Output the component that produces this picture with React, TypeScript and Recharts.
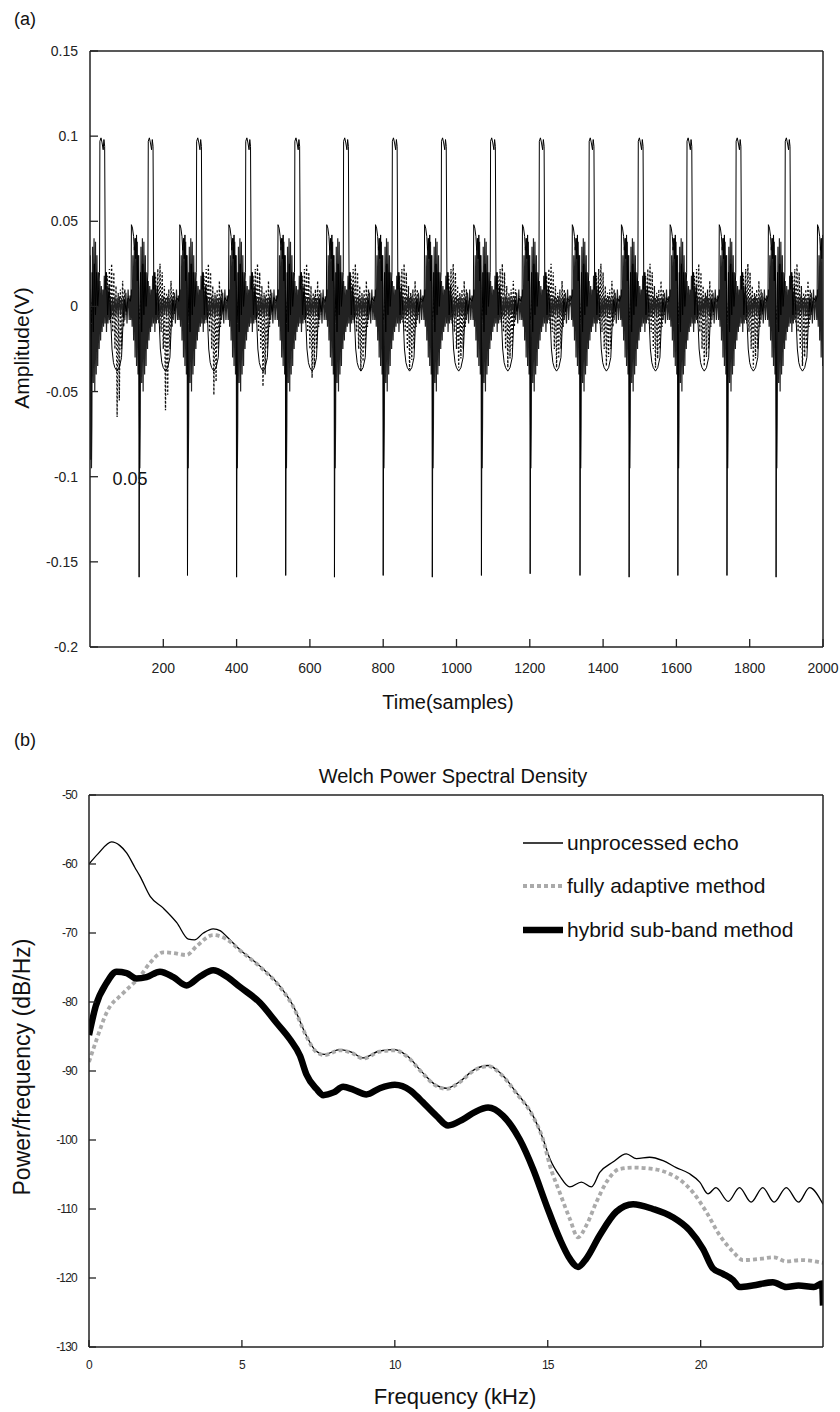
import React from 'react';
import { LineChart, Line, XAxis, YAxis, Legend } from 'recharts';

const FONT = '"Liberation Sans", Arial, Helvetica, sans-serif';

// ---------- (a) time signal ----------
// sample index of each deep negative spike (one per echo period)
const spikeSamples = [2, 134, 266, 400, 534, 667, 800, 934, 1068, 1201, 1337, 1471, 1604, 1738, 1872, 2006];
const spikeDepth = [-0.09, -0.159, -0.158, -0.159, -0.158, -0.159, -0.158, -0.159, -0.158, -0.157, -0.158, -0.159, -0.158, -0.158, -0.159, -0.158];
// deepest point of the dotted trace between pulses, per period
const dottedDip = [-0.065, -0.061, -0.052, -0.047, -0.042, -0.038, -0.037, -0.036, -0.036, -0.036, -0.035, -0.036, -0.035, -0.036, -0.035, -0.035];

// one period of each trace: [offset from spike (samples), amplitude (V)]
const echoShape: [number, number | string][] = [
  [-25, 0.004], [-22, 0.006], [-21, 0.048], [-18, 0.046], [-15, 0.041], [-13, 0.033], [-11, 0.04],
  [-9, 0.028], [-7, 0.042], [-5, 0.015], [-3, 0.03], [-1, 0.01], [0, 'spike'], [2, -0.01], [4, 0.02],
  [7, -0.015], [10, 0.025], [13, -0.005], [16, 0.02], [19, 0.0], [22, 0.01], [24, 0.02], [25, 0.097],
  [28, 0.099], [31, 0.096], [34, 0.092], [36, 0.098], [38, 0.094], [40, 0.01], [43, 0.02], [46, -0.005],
  [50, 0.012], [54, -0.004], [58, -0.025], [62, -0.033], [66, -0.036], [72, -0.038], [78, -0.036],
  [84, -0.03], [88, -0.01], [92, 0.004], [97, -0.003], [102, 0.005], [108, 0.003],
];

const adaptiveShape: [number, number | string][] = [
  [-25, 0.002], [-20, -0.006], [-15, 0.008], [-10, -0.004], [-5, 0.006], [0, -0.008], [5, 0.004],
  [10, -0.006], [15, 0.008], [20, 0.0], [25, 0.005], [30, -0.004], [35, 0.006], [40, -0.002],
  [45, 0.018], [48, -0.006], [51, 0.022], [54, -0.01], [57, 0.025], [60, -0.015], [63, 0.02],
  [66, -0.025], [69, 0.012], [72, 'dip'], [75, 0.008], [78, 'dip2'], [81, 0.01], [84, -0.025],
  [87, 0.015], [90, -0.012], [93, 0.01], [97, -0.005], [102, 0.006], [108, 0.0],
];

const hybridShape: [number, number][] = [
  [-25, 0.006], [-23, -0.008], [-21, 0.01], [-19, -0.012], [-17, 0.03], [-15, -0.02], [-13, 0.035],
  [-11, -0.03], [-9, 0.04], [-7, -0.035], [-5, 0.038], [-3, -0.04], [-1, 0.03], [1, -0.065],
  [2, -0.095], [3, -0.07], [5, 0.035], [7, -0.045], [9, 0.04], [11, -0.05], [13, 0.038], [15, -0.04],
  [17, 0.03], [19, -0.035], [21, 0.02], [23, -0.025], [25, 0.015], [27, -0.02], [29, 0.012],
  [31, -0.015], [33, 0.01], [35, -0.012], [37, 0.018], [39, -0.01], [41, 0.02], [43, -0.015],
  [45, 0.012], [47, -0.01], [49, 0.008], [51, -0.008], [54, 0.006], [57, -0.006], [60, 0.005],
  [63, -0.006], [66, 0.006], [69, -0.005], [72, 0.005], [75, -0.006], [78, 0.006], [81, -0.005],
  [84, 0.005], [87, -0.006], [90, 0.006], [93, -0.008], [96, 0.008], [99, -0.01], [102, 0.01],
  [105, -0.008], [108, 0.006],
];

const timeTicks = [200, 400, 600, 800, 1000, 1200, 1400, 1600, 1800, 2000];
const ampTicks = [-0.2, -0.15, -0.1, -0.05, 0, 0.05, 0.1, 0.15];

// ---------- (b) Welch PSD ----------
const echoFreq = [0, 0.3, 0.74, 1.0, 1.23, 1.5, 1.67, 2.0, 2.43, 2.87, 3.25, 3.45, 3.74, 4.06, 4.3, 4.5, 4.93, 5.59, 6.24, 6.68, 7.11, 7.4, 7.7, 8.2, 8.6, 8.96, 9.5, 10.0, 10.4, 10.9, 11.3, 11.69, 12.1, 12.6, 13.05, 13.5, 13.97, 14.52, 14.85, 15.07, 15.39, 15.72, 16.1, 16.43, 16.7, 17.13, 17.57, 17.9, 18.33, 18.77, 19.2, 19.64, 19.97, 20.24, 20.5, 20.9, 21.27, 21.65, 22.03, 22.4, 22.8, 23.2, 23.56, 24];
const echoDb = [-60.0, -58.5, -56.8, -57.3, -58.4, -60.5, -61.8, -64.7, -66.4, -68.5, -70.9, -71.0, -70.0, -69.4, -69.7, -70.5, -72.4, -74.8, -77.7, -80.6, -84.9, -87.0, -87.6, -86.9, -87.3, -88.1, -87.1, -86.9, -87.8, -90.2, -91.9, -92.5, -91.6, -89.8, -89.2, -90.5, -93.1, -96.5, -99.9, -102.7, -105.2, -106.8, -106.1, -106.8, -104.7, -103.2, -102.0, -102.7, -102.5, -103.0, -104.0, -104.9, -106.1, -107.8, -106.9, -108.9, -106.9, -109.0, -106.9, -109.0, -106.9, -109.0, -106.9, -109.3];

const adaptiveFreq = [0, 0.25, 0.58, 1.12, 1.67, 2.0, 2.43, 2.76, 3.19, 3.52, 4.06, 4.5, 4.93, 5.59, 6.24, 6.68, 7.11, 7.4, 7.7, 8.2, 8.6, 8.96, 9.5, 10.0, 10.4, 10.9, 11.3, 11.69, 12.1, 12.6, 13.05, 13.5, 13.97, 14.52, 14.85, 15.07, 15.39, 15.72, 15.99, 16.26, 16.59, 16.92, 17.35, 17.79, 18.44, 18.88, 19.42, 19.75, 20.18, 20.62, 21.06, 21.38, 22.0, 22.4, 22.8, 23.3, 24];
const adaptiveDb = [-88.7, -85.4, -81.5, -78.7, -76.3, -74.3, -72.8, -72.9, -73.2, -71.9, -70.3, -70.9, -72.5, -74.9, -77.8, -80.7, -85.0, -87.1, -87.7, -87.0, -87.4, -88.2, -87.2, -87.0, -87.9, -90.3, -92.0, -92.6, -91.7, -89.9, -89.3, -90.6, -93.2, -96.6, -100.0, -103.7, -107.6, -111.4, -114.1, -112.4, -109.0, -106.1, -104.2, -104.0, -104.2, -104.7, -106.1, -107.6, -110.4, -113.8, -116.2, -117.4, -117.2, -117.0, -117.6, -117.4, -117.8];

const hybridFreq = [0, 0.22, 0.58, 0.9, 1.23, 1.55, 1.88, 2.32, 2.76, 3.19, 3.63, 4.06, 4.5, 4.93, 5.59, 6.13, 6.57, 6.9, 7.11, 7.44, 7.66, 8.0, 8.31, 8.64, 9.07, 9.51, 10.0, 10.5, 10.82, 11.36, 11.74, 12.23, 12.6, 13.05, 13.54, 14.08, 14.52, 14.96, 15.39, 15.72, 15.99, 16.26, 16.7, 17.24, 17.79, 18.44, 19.09, 19.64, 20.08, 20.4, 20.73, 21.06, 21.27, 21.7, 22.36, 22.8, 23.2, 23.7, 23.97, 24];
const hybridDb = [-84.8, -80.6, -77.2, -75.6, -75.8, -76.6, -76.4, -75.6, -76.4, -77.6, -76.3, -75.4, -76.3, -77.8, -80.1, -83.0, -85.4, -87.8, -90.5, -92.6, -93.5, -93.1, -92.3, -92.7, -93.4, -92.5, -92.0, -92.8, -94.1, -96.5, -97.9, -97.0, -96.0, -95.3, -96.5, -99.9, -104.2, -109.5, -114.3, -117.2, -118.4, -117.2, -113.8, -110.4, -109.3, -110.0, -111.2, -113.1, -115.8, -118.6, -119.4, -120.3, -121.3, -121.1, -120.6, -121.3, -121.1, -121.3, -120.8, -124.0];

const freqTicks = [0, 5, 10, 15, 20];
const dbTicks = [-130, -120, -110, -100, -90, -80, -70, -60, -50];

const psdSeries = [
  { key: 'echo', name: 'unprocessed echo', stroke: '#000', width: 1.3, dash: undefined as string | undefined },
  { key: 'adaptive', name: 'fully adaptive method', stroke: '#aaaaaa', width: 3.8, dash: '4 3' },
  { key: 'hybrid', name: 'hybrid sub-band method', stroke: '#000', width: 6.5, dash: undefined as string | undefined },
];

function buildTrace(shape: [number, number | string][], i: number) {
  return shape.map(([off, v]) => {
    let val = v as number;
    if (v === 'spike') val = spikeDepth[i];
    if (v === 'dip') val = dottedDip[i];
    if (v === 'dip2') val = dottedDip[i] * 0.85;
    return { t: spikeSamples[i] + off, v: val };
  });
}

function buildSeries(shape: [number, number | string][]) {
  const out: { t: number; v: number }[] = [];
  spikeSamples.forEach((_, i) => {
    buildTrace(shape, i).forEach((p) => {
      if (p.t >= 0 && p.t <= 2000) out.push(p);
    });
  });
  return out.sort((a, b) => a.t - b.t);
}

const echoTrace = buildSeries(echoShape);
const adaptiveTrace = buildSeries(adaptiveShape);
const hybridTrace = buildSeries(hybridShape);

const zip = (fs: number[], vs: number[]) => fs.map((f, i) => ({ f, v: vs[i] }));
const psdData: Record<string, { f: number; v: number }[]> = {
  echo: zip(echoFreq, echoDb),
  adaptive: zip(adaptiveFreq, adaptiveDb),
  hybrid: zip(hybridFreq, hybridDb),
};

// inward tick marks with labels outside the frame
const makeTick = (side: string, opts: { label?: boolean; size?: number; gap?: number; len?: number; ls?: number }) =>
  (props: any) => {
    const { x, y, payload } = props;
    const len = opts.len ?? 7;
    const size = opts.size ?? 14;
    const gap = opts.gap ?? 12;
    const txt = String(payload.value);
    let line = null;
    let text = null;
    if (side === 'bottom') {
      line = <line x1={x} y1={y} x2={x} y2={y - len} stroke="#222" strokeWidth={1.3} />;
      if (opts.label) text = <text x={x} y={y + gap} textAnchor="middle" fontSize={size} letterSpacing={opts.ls ?? 0} fontFamily={FONT} fill="#222">{txt}</text>;
    } else if (side === 'top') {
      line = <line x1={x} y1={y} x2={x} y2={y + len} stroke="#222" strokeWidth={1.3} />;
    } else if (side === 'left') {
      line = <line x1={x} y1={y} x2={x + len} y2={y} stroke="#222" strokeWidth={1.3} />;
      if (opts.label) text = <text x={x - gap} y={y + size * 0.36} textAnchor="end" fontSize={size} letterSpacing={opts.ls ?? 0} fontFamily={FONT} fill="#222">{txt}</text>;
    } else {
      line = <line x1={x} y1={y} x2={x - len} y2={y} stroke="#222" strokeWidth={1.3} />;
    }
    return <g>{line}{text}</g>;
  };

const axisLine = { stroke: '#222', strokeWidth: 1.5 };

function PsdLegend() {
  return (
    <div style={{ fontFamily: FONT, fontSize: 21, color: '#111' }}>
      {psdSeries.map((s) => (
        <div key={s.key} style={{ display: 'flex', alignItems: 'center', height: 43.5 }}>
          <svg width={44} height={20}>
            <line x1={0} y1={10} x2={40} y2={10} stroke={s.stroke} strokeWidth={s.key === 'adaptive' ? 4 : s.width + (s.key === 'echo' ? 0.3 : 0)} strokeDasharray={s.dash} />
          </svg>
          <span style={{ whiteSpace: 'nowrap', lineHeight: '24px' }}>{s.name}</span>
        </div>
      ))}
    </div>
  );
}

const abs = (left: number, top: number, size: number, rotate = false): React.CSSProperties => ({
  position: 'absolute',
  left,
  top,
  fontSize: size,
  fontFamily: FONT,
  color: '#111',
  whiteSpace: 'nowrap',
  transform: rotate ? 'translate(-50%, -50%) rotate(-90deg)' : 'translate(-50%, -50%)',
});

export default function App() {
  return (
    <div style={{ position: 'absolute', left: 0, top: 0, width: 840, height: 1412, background: '#fff', overflow: 'hidden' }}>
      <div style={{ position: 'absolute', left: 0, top: 0 }}>
        <LineChart width={840} height={700} margin={{ top: 50, right: 16, bottom: 52, left: 89 }}>
          <XAxis dataKey="t" type="number" domain={[0, 2000]} ticks={timeTicks} interval={0} allowDataOverflow
            height={1} tickSize={0} tickMargin={0} tickLine={false} axisLine={axisLine}
            tick={makeTick('bottom', { label: true, size: 14, gap: 26, len: 8 })} />
          <XAxis xAxisId="top" orientation="top" type="number" domain={[0, 2000]} ticks={timeTicks} interval={0}
            height={1} tickSize={0} tickMargin={0} tickLine={false} axisLine={axisLine}
            tick={makeTick('top', { len: 8 })} />
          <YAxis type="number" domain={[-0.2, 0.15]} ticks={ampTicks} interval={0} allowDataOverflow
            width={1} tickSize={0} tickMargin={0} tickLine={false} axisLine={axisLine}
            tick={makeTick('left', { label: true, size: 14, gap: 12, len: 8 })} />
          <YAxis yAxisId="right" orientation="right" type="number" domain={[-0.2, 0.15]} ticks={ampTicks} interval={0}
            width={1} tickSize={0} tickMargin={0} tickLine={false} axisLine={axisLine}
            tick={makeTick('right', { len: 8 })} />
          <Line data={adaptiveTrace} dataKey="v" type="linear" stroke="#111" strokeWidth={1.3} strokeDasharray="2 2" dot={false} isAnimationActive={false} />
          <Line data={hybridTrace} dataKey="v" type="linear" stroke="#222" strokeWidth={1.2} dot={false} isAnimationActive={false} />
          <Line data={echoTrace} dataKey="v" type="linear" stroke="#000" strokeWidth={1} dot={false} isAnimationActive={false} />
        </LineChart>
      </div>

      <div style={{ position: 'absolute', left: 0, top: 700 }}>
        <LineChart width={840} height={712} margin={{ top: 94, right: 16, bottom: 64, left: 88 }}>
          <XAxis dataKey="f" type="number" domain={[0, 24]} ticks={freqTicks} interval={0} allowDataOverflow
            height={1} tickSize={0} tickMargin={0} tickLine={false} axisLine={axisLine}
            tick={makeTick('bottom', { label: true, size: 12, gap: 22, len: 7, ls: -0.8 })} />
          <XAxis xAxisId="top" orientation="top" type="number" domain={[0, 24]} ticks={freqTicks} interval={0}
            height={1} tickSize={0} tickMargin={0} tickLine={false} axisLine={axisLine}
            tick={makeTick('top', { len: 7 })} />
          <YAxis type="number" domain={[-130, -50]} ticks={dbTicks} interval={0} allowDataOverflow
            width={1} tickSize={0} tickMargin={0} tickLine={false} axisLine={axisLine}
            tick={makeTick('left', { label: true, size: 12, gap: 12, len: 7, ls: -0.8 })} />
          <YAxis yAxisId="right" orientation="right" type="number" domain={[-130, -50]} ticks={dbTicks} interval={0}
            width={1} tickSize={0} tickMargin={0} tickLine={false} axisLine={axisLine}
            tick={makeTick('right', { len: 7 })} />
          {psdSeries.map((s) => (
            <Line key={s.key} data={psdData[s.key]} dataKey="v" name={s.name} type="monotone" stroke={s.stroke}
              strokeWidth={s.width} strokeDasharray={s.dash} dot={false} isAnimationActive={false} />
          ))}
          <Legend layout="vertical" align="center" verticalAlign="middle" content={() => <PsdLegend />}
            wrapperStyle={{ left: 523, top: 121, width: 310, height: 132 }} />
        </LineChart>
      </div>

      <div style={abs(25, 19, 18)}>(a)</div>
      <div style={abs(22, 348, 21, true)}>Amplitude(V)</div>
      <div style={abs(448, 702, 20)}>Time(samples)</div>
      <div style={abs(130, 479, 18)}>0.05</div>

      <div style={abs(25, 740, 18)}>(b)</div>
      <div style={abs(453, 776, 20)}>Welch Power Spectral Density</div>
      <div style={abs(22, 1067, 23, true)}>Power/frequency (dB/Hz)</div>
      <div style={abs(455, 1397, 22)}>Frequency (kHz)</div>
    </div>
  );
}
